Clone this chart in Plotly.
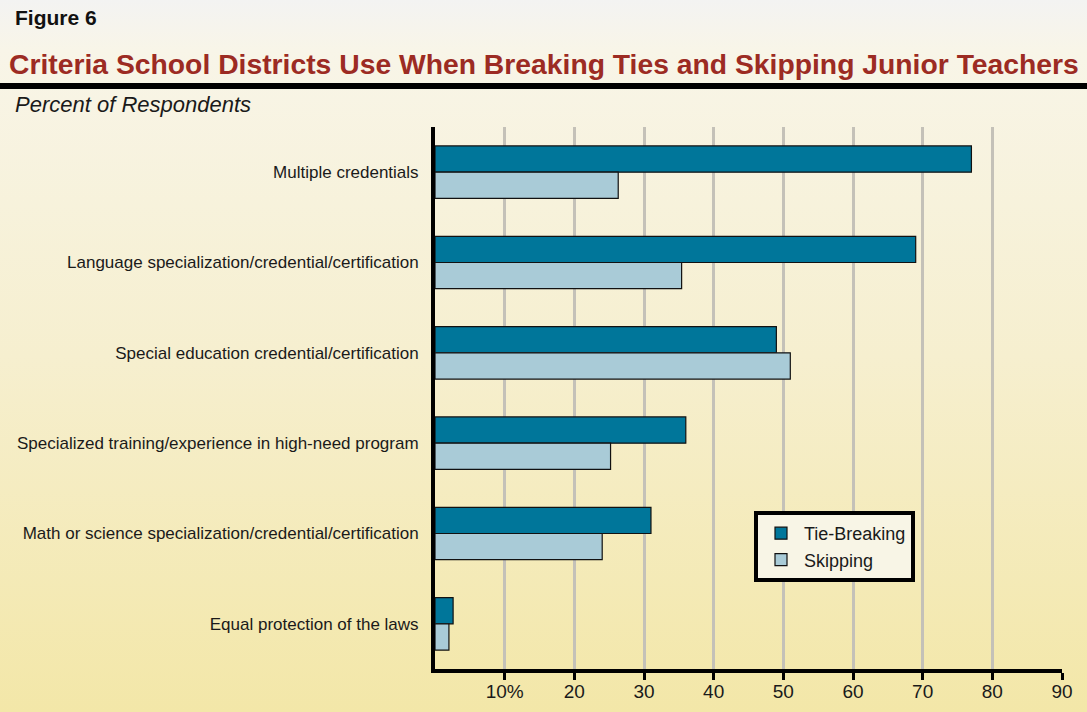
import base64
import plotly.graph_objects as go

categories = [
    "Multiple credentials",
    "Language specialization/credential/certification",
    "Special education credential/certification",
    "Specialized training/experience in high-need program",
    "Math or science specialization/credential/certification",
    "Equal protection of the laws",
]
tie_breaking = [77, 69, 49, 36, 31, 2.6]
skipping = [26.3, 35.4, 51, 25.2, 24, 2]
tick_vals = [10, 20, 30, 40, 50, 60, 70, 80, 90]
tick_text = ["10%", "20", "30", "40", "50", "60", "70", "80", "90"]

W, H = 1087, 712
L, R, T, B = 435, 25, 127, 43
PW, PH = W - L - R, H - T - B

def px2x(px):
    return (px - L) / PW

def px2y(py):
    return 1 - (py - T) / PH

FONT = "Liberation Sans, Arial, Helvetica, sans-serif"

svg = (
    f'<svg xmlns="http://www.w3.org/2000/svg" width="{W}" height="{H}" viewBox="0 0 {W} {H}" preserveAspectRatio="none">'
    '<defs><linearGradient id="g" x1="0" y1="0" x2="0" y2="1">'
    '<stop offset="0" stop-color="#f3f3f2"/><stop offset="0.07" stop-color="#f8f5e8"/>'
    '<stop offset="0.5" stop-color="#f6efcf"/>'
    '<stop offset="1" stop-color="#f3e7a8"/></linearGradient></defs>'
    f'<rect width="{W}" height="{H}" fill="url(#g)"/>'
    f'<rect y="83" width="{W}" height="6" fill="#000"/>'
    '</svg>'
)
bg_src = "data:image/svg+xml;base64," + base64.b64encode(svg.encode()).decode()

fig = go.Figure()
fig.add_trace(go.Bar(
    y=categories, x=tie_breaking, orientation="h", name="Tie-Breaking",
    marker=dict(color="#00769a", line=dict(color="#111", width=1.2)),
))
fig.add_trace(go.Bar(
    y=categories, x=skipping, orientation="h", name="Skipping",
    marker=dict(color="#a9cbd7", line=dict(color="#111", width=1.2)),
))

fig.update_layout(
    width=W, height=H,
    margin=dict(l=L, r=R, t=T, b=B, autoexpand=False),
    paper_bgcolor="#f5eccb",
    plot_bgcolor="rgba(0,0,0,0)",
    barmode="group", bargap=0.42, bargroupgap=0,
    font=dict(family=FONT, color="#1a1a1a"),
    images=[dict(
        source=bg_src, xref="paper", yref="paper",
        x=px2x(0), y=px2y(0), sizex=W / PW, sizey=H / PH,
        xanchor="left", yanchor="top", sizing="stretch", layer="below",
    )],
    legend=dict(
        x=px2x(754), y=px2y(511), xanchor="left", yanchor="top",
        bgcolor="#f8f5e6", bordercolor="#000", borderwidth=4,
        font=dict(size=18, family=FONT, color="#1a1a1a"),
        tracegroupgap=0, itemwidth=36,
    ),
    showlegend=True,
)

fig.update_xaxes(
    range=[0, 90], tickvals=tick_vals, ticktext=tick_text,
    showgrid=True, gridcolor="#c4c1b8", gridwidth=3,
    showline=True, linecolor="#000", linewidth=4,
    ticks="outside", ticklen=7, tickwidth=3, tickcolor="#000",
    ticklabelstandoff=-5,
    tickfont=dict(size=19, family=FONT, color="#1a1a1a"),
    zeroline=False, fixedrange=True, automargin=False,
)
fig.update_yaxes(
    autorange="reversed", showgrid=False,
    showline=True, linecolor="#000", linewidth=4,
    ticks="", ticklabelstandoff=9,
    tickfont=dict(size=17, family=FONT, color="#1a1a1a"),
    fixedrange=True, automargin=False,
)

annotations = [
    dict(text="<b>Figure 6</b>", x=px2x(13), y=px2y(18), font=dict(size=21, color="#111")),
    dict(text="<b>Criteria School Districts Use When Breaking Ties and Skipping Junior Teachers</b>",
         x=px2x(7), y=px2y(64), font=dict(size=28.3, color="#9c2b23")),
    dict(text="<i>Percent of Respondents</i>", x=px2x(13), y=px2y(104),
         font=dict(size=22, color="#1a1a1a")),
]
for a in annotations:
    fig.add_annotation(xref="paper", yref="paper", xanchor="left", yanchor="middle",
                       showarrow=False, **a)

fig.write_html(
    "out.html",
    config={"displayModeBar": False},
    post_script="document.body.style.margin='0';document.body.style.background='#f3e7a8';",
)
